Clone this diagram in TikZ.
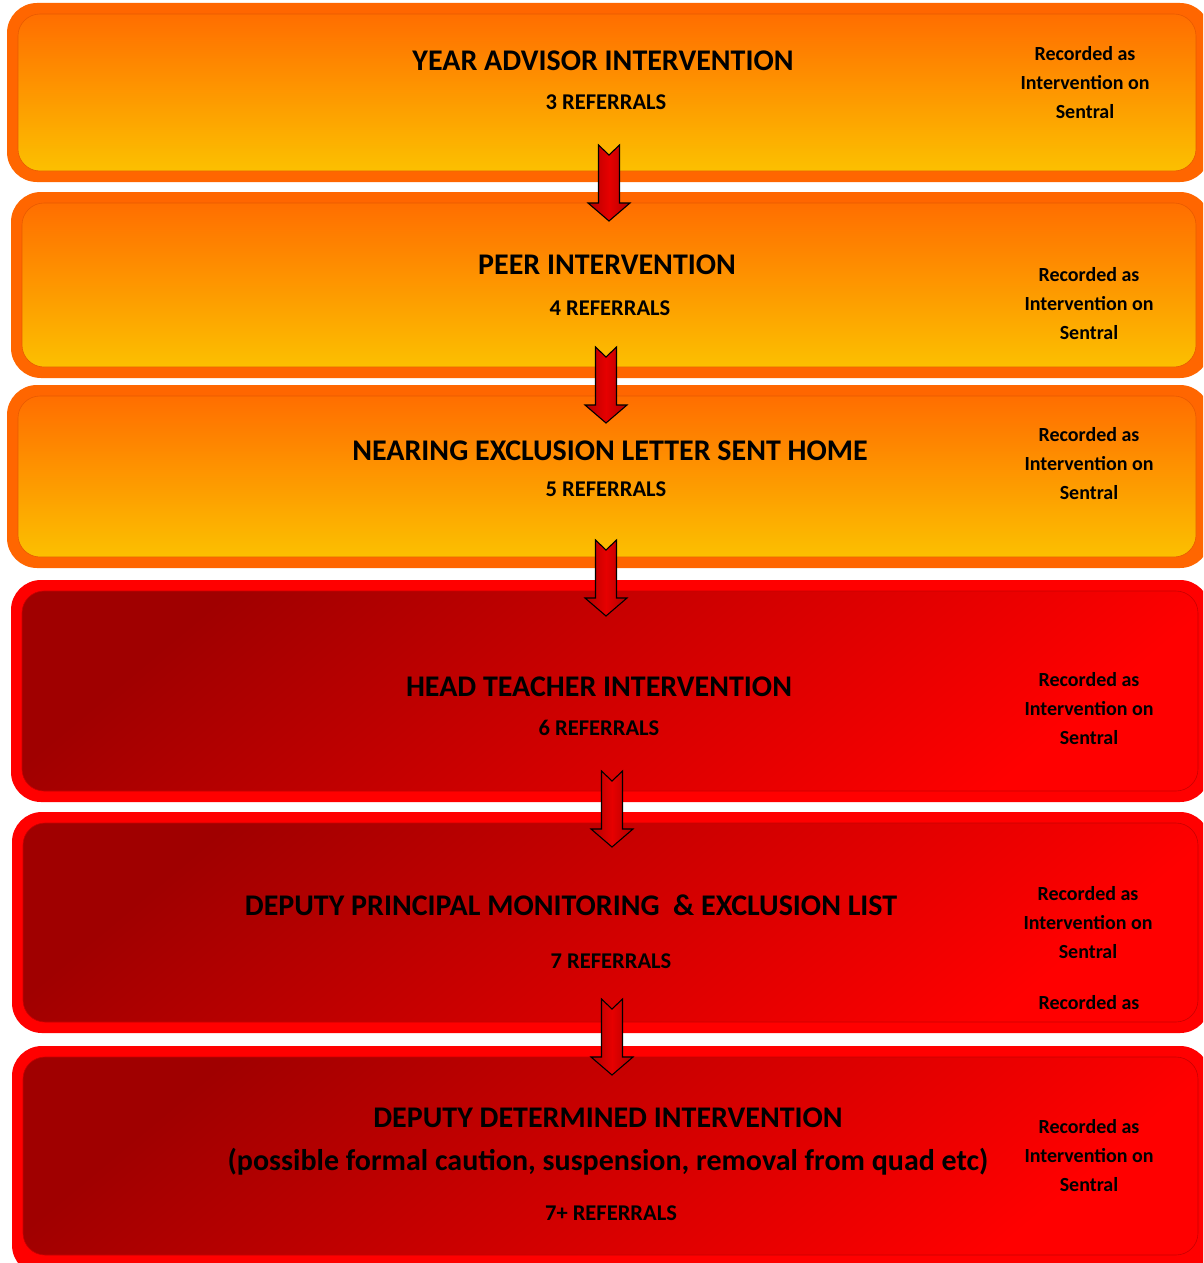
\documentclass[tikz,border=0pt]{standalone}
\usepackage{fontspec}
\setmainfont{Carlito}
\usetikzlibrary{calc}

\definecolor{orBorder}{HTML}{FF6600}
\definecolor{orTop}{HTML}{FF6E00}
\definecolor{orBottom}{HTML}{FCC000}
\definecolor{orEdge}{HTML}{E85A00}
\definecolor{rdBorder}{HTML}{FF0000}
\definecolor{rdDark}{HTML}{A00000}
\definecolor{rdBright}{HTML}{FF0000}
\definecolor{rdEdge}{HTML}{C80000}
\definecolor{arSide}{HTML}{B00000}
\definecolor{arMid}{HTML}{E60000}

\tikzset{
  orframe/.style={fill=orBorder, rounded corners=30pt},
  orpanel/.style={top color=orTop, bottom color=orBottom, draw=orEdge, line width=0.6pt, rounded corners=22pt},
  rdframe/.style={fill=rdBorder, rounded corners=30pt},
  rdpanel/.style={top color=rdDark, bottom color=rdBright, shading angle=40, draw=rdEdge, line width=0.6pt, rounded corners=22pt},
  headline/.style={font=\fontsize{30}{34}\selectfont\bfseries, inner sep=0pt},
  countline/.style={font=\fontsize{22.5}{26}\selectfont\bfseries, inner sep=0pt},
  sideline/.style={font=\fontsize{20}{29}\selectfont\bfseries, inner sep=0pt, align=center},
  arrowbody/.style={left color=arSide, right color=arSide, middle color=arMid, draw=black, line width=1.1pt, line join=miter},
  downarrow/.pic={
    \path[arrowbody] (-10.5,0) -- (0,10) -- (10.5,0) -- (10.5,58) -- (21,58)
      -- (0,76) -- (-21,58) -- (-10.5,58) -- cycle;
  }
}

\begin{document}
\begin{tikzpicture}[x=1pt, y=-1pt]
\useasboundingbox (0,0) rectangle (1203,1263);
\clip (0,0) rectangle (1203,1263);

% stage panels: thick coloured frame with shaded face
\path[orframe] (7,3) rectangle (1210,182);
\path[orpanel] (18,14) rectangle (1196,171);

\path[orframe] (11,192) rectangle (1210,378);
\path[orpanel] (22,203) rectangle (1196,367);

\path[orframe] (7,385) rectangle (1210,568);
\path[orpanel] (18,396) rectangle (1196,557);

\path[rdframe] (11,580) rectangle (1210,802);
\path[rdpanel] (22,591) rectangle (1198,791);

\path[rdframe] (12,812) rectangle (1210,1033);
\path[rdpanel] (23,823) rectangle (1198,1022);

\path[rdframe] (12,1046) rectangle (1210,1275);
\path[rdpanel] (23,1057) rectangle (1198,1255);

% stage 1
\node[headline] (t1) at (603,61) {YEAR ADVISOR INTERVENTION};
\node[countline] (c1) at (606,102) {3 REFERRALS};
\node[sideline] (s1) at (1085,83) {Recorded as\\Intervention on\\Sentral};

% stage 2
\node[headline] (t2) at (607,265) {PEER INTERVENTION};
\node[countline] (c2) at (610,308) {4 REFERRALS};
\node[sideline] (s2) at (1089,304) {Recorded as\\Intervention on\\Sentral};

% stage 3
\node[headline] (t3) at (610,451) {NEARING EXCLUSION LETTER SENT HOME};
\node[countline] (c3) at (606,489) {5 REFERRALS};
\node[sideline] (s3) at (1089,464) {Recorded as\\Intervention on\\Sentral};

% stage 4
\node[headline] (t4) at (599,687) {HEAD TEACHER INTERVENTION};
\node[countline] (c4) at (599,728) {6 REFERRALS};
\node[sideline] (s4) at (1089,709) {Recorded as\\Intervention on\\Sentral};

% stage 5
\node[headline] (t5) at (571,905) {DEPUTY PRINCIPAL MONITORING\ \ \& EXCLUSION LIST};
\node[countline] (c5) at (611,961) {7 REFERRALS};
\node[sideline] (s5) at (1088,923) {Recorded as\\Intervention on\\Sentral};
\node[sideline] (s5b) at (1089,1003) {Recorded as};

% stage 6
\node[headline] (t6) at (608,1118) {DEPUTY DETERMINED INTERVENTION};
\node[headline] (t6b) at (608,1162) {(possible formal caution, suspension, removal from quad etc)};
\node[countline] (c6) at (611,1213) {7+ REFERRALS};
\node[sideline] (s6) at (1089,1156) {Recorded as\\Intervention on\\Sentral};

% step arrows between stages
\coordinate (a1) at (609,145);
\coordinate (a2) at (606,347);
\coordinate (a3) at (606,540);
\coordinate (a4) at (612,771);
\coordinate (a5) at (612,999);
\foreach \a in {a1,a2,a3,a4,a5} {
  \pic at (\a) {downarrow};
}
\end{tikzpicture}
\end{document}
